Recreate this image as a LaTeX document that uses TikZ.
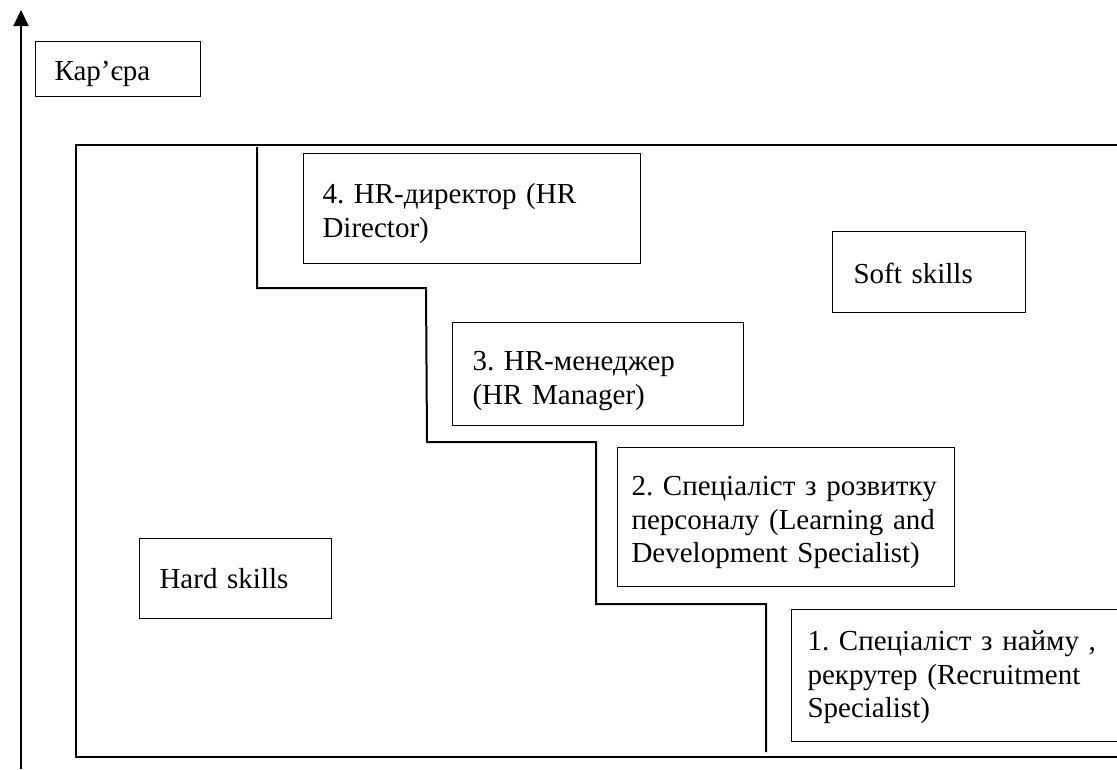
\documentclass[tikz,border=0pt]{standalone}
\usepackage{fontspec}
\setmainfont{Liberation Serif}
\usetikzlibrary{arrows.meta}

\begin{document}
\frenchspacing
\begin{tikzpicture}[
    x=1pt, y=-1pt,
    block/.style = {rectangle, draw, line width=1.1pt, anchor=north west,
                    align=left, inner ysep=0pt, inner xsep=19pt,
                    font=\fontsize{29}{33.5}\selectfont},
    frame/.style = {draw, line width=1.3pt},
    stair/.style = {line width=2pt},
    arrow/.style = {line width=2pt, -{Triangle[length=16pt, width=15pt]}}
]
\useasboundingbox (0,0) rectangle (1117,769);
\clip (0,0) rectangle (1117,769);

% =====================
% Axis and outer field
% =====================

\coordinate (axisbase) at (21,769);
\coordinate (axistop) at (21,10);
\draw[arrow] (axisbase) -- (axistop);

\node[block, text width=127pt, text height=39pt, text depth=16pt] (career) at (35,41) {Кар’єра};

\draw[frame] (76,145) rectangle (1140,757);

% =====================
% Career steps (top to bottom)
% =====================

\node[block, text width=299pt, text height=50pt, text depth=60pt] (hrdir) at (303,153)
    {4. HR-директор (HR\\ Director)};

\node[block, text width=251pt, text height=48pt, text depth=55pt, inner xsep=20pt] (hrman) at (452,322)
    {3. HR-менеджер\\ (HR Manager)};

\node[block, text width=319pt, text height=48pt, text depth=91pt, inner xsep=9pt] (lnd) at (617,447)
    {\hspace*{5pt}2. Спеціаліст з розвитку\\ \hspace*{5pt}персоналу (Learning and\\ \hspace*{5pt}Development Specialist)};

\node[block, text width=317pt, text height=41pt, text depth=91pt, inner xsep=16pt] (recr) at (791,609)
    {1. Спеціаліст з найму ,\\ рекрутер (Recruitment\\ Specialist)};

% Skills
\node[block, text width=151pt, text height=52pt, text depth=29pt, inner xsep=21pt] (soft) at (832,231) {Soft skills};
\node[block, text width=152pt, text height=50pt, text depth=30pt, inner xsep=20pt] (hard) at (139,538) {Hard skills};

% =====================
% Staircase border
% =====================

\draw[stair] (257,147) -- (257,288) -- (426,288) -- (427,442) -- (596,442)
    -- (596,604) -- (766,604) -- (766,752);

\end{tikzpicture}
\end{document}
